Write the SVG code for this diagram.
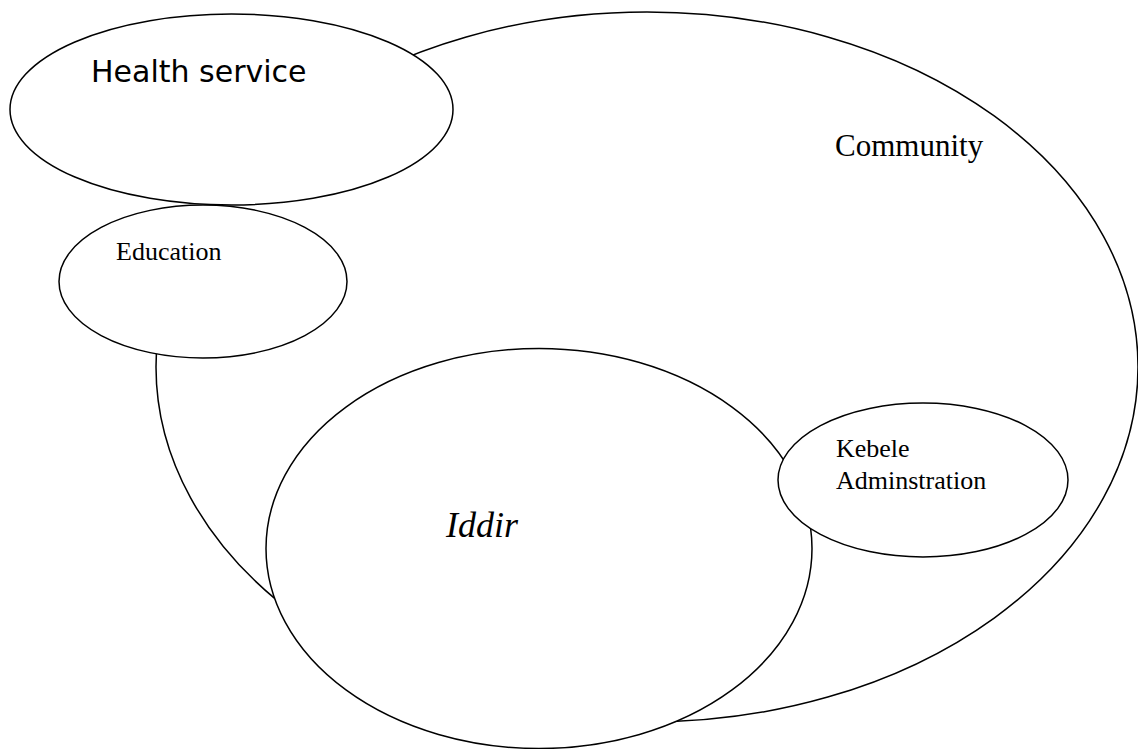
<svg xmlns="http://www.w3.org/2000/svg" width="1138" height="749" viewBox="0 0 1138 749">
<style>
.e{fill:#fff;stroke:#000;stroke-width:1.5}
.t{font-family:"Liberation Serif","Times New Roman",serif;fill:#000}
.s{font-family:"DejaVu Sans",Verdana,sans-serif;fill:#000}
</style>
<rect width="1138" height="749" fill="#fff"/>
<g id="community"><ellipse class="e" cx="647" cy="367" rx="491" ry="355"/><text class="t" x="835" y="156" font-size="31">Community</text></g>
<g id="health"><ellipse class="e" cx="231.5" cy="109.5" rx="221.5" ry="95.5"/><text class="s" x="91" y="82" font-size="30">Health service</text></g>
<g id="education"><ellipse class="e" cx="203" cy="281.5" rx="144" ry="76.5"/><text class="t" x="116" y="260" font-size="26">Education</text></g>
<g id="iddir"><ellipse class="e" cx="539" cy="548.5" rx="273" ry="200"/><text class="t" x="446" y="537" font-size="36" font-style="italic">Iddir</text></g>
<g id="kebele"><ellipse class="e" cx="923" cy="480" rx="145" ry="77"/><text class="t" x="836" y="457" font-size="26">Kebele</text><text class="t" x="836" y="489" font-size="26">Adminstration</text></g>
<g id="connectors"/>
</svg>
